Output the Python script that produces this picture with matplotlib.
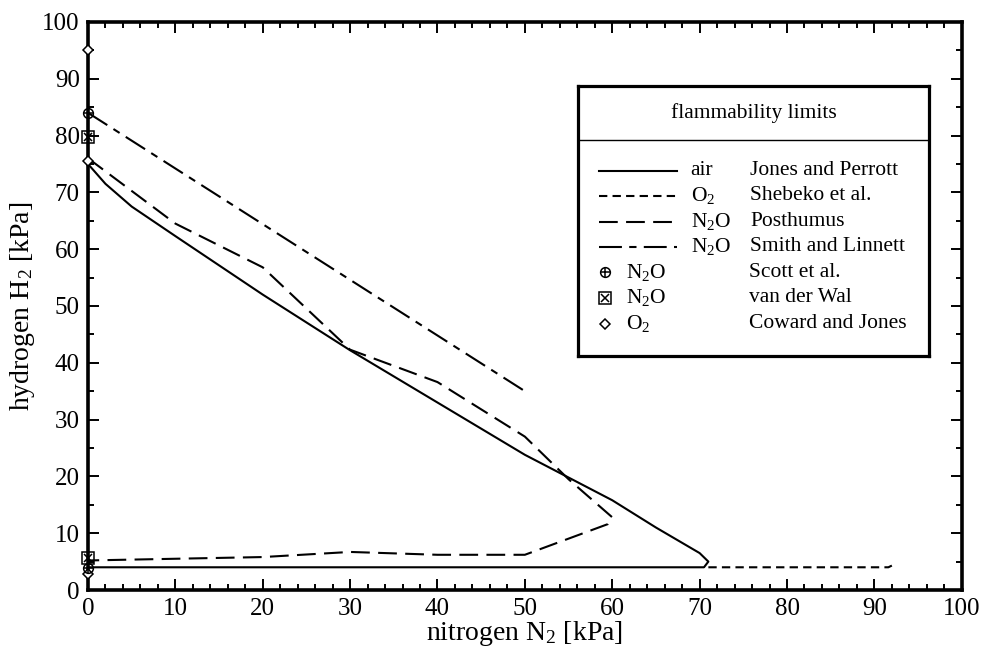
"""
Flammability limits of H2 / N2 mixtures in different oxidisers
"""

import matplotlib
matplotlib.use("Agg")
import matplotlib.pyplot as plt
from matplotlib.lines import Line2D
from matplotlib.ticker import MultipleLocator

plt.rcParams['font.family'] = ['Liberation Serif', 'DejaVu Serif']
plt.rcParams['mathtext.default'] = 'regular'

# ==================== data ====================

# air, Jones and Perrott (solid)
air_n2 = [0, 2, 5, 10, 20, 30, 40, 50, 60, 65, 70, 71, 70.5, 60, 40, 20, 0]
air_h2 = [75, 71.5, 67.5, 62.3, 52, 42.2, 33, 23.8, 15.8, 11, 6.5, 5, 4, 4, 4, 4, 4]

# O2, Shebeko et al. (short dashes)
o2_n2 = [71, 80, 91.6, 92]
o2_h2 = [4, 4, 4, 4.3]

# N2O, Posthumus (long dashes)
post_n2 = [0, 10, 20, 30, 40, 50, 55, 60, 59.5, 50, 40, 30, 20, 10, 0]
post_h2 = [76, 64.5, 56.8, 42.3, 36.6, 27, 19.5, 12.8, 11.6, 6.2, 6.2, 6.7, 5.8, 5.5, 5.2]

# N2O, Smith and Linnett (dash-dot)
smith_n2 = [0, 50]
smith_h2 = [84, 35]

# single points on the H2 axis
scott_n2 = [0, 0]
scott_h2 = [84, 3.8]
wal_n2 = [0, 0]
wal_h2 = [79.7, 5.6]
coward_n2 = [0, 0, 0]
coward_h2 = [95, 75.5, 2.8]

legend_gas = ['air', 'O$_2$', 'N$_2$O', 'N$_2$O', 'N$_2$O', 'N$_2$O', 'O$_2$']
legend_src = ['Jones and Perrott', 'Shebeko et al.', 'Posthumus', 'Smith and Linnett',
              'Scott et al.', 'van der Wal', 'Coward and Jones']

# ===================================================================

short_dash = (0, (4, 2.5))
long_dash = (0, (9, 4))
dash_dot = (0, (11, 3.5, 3.5, 3.5))
lw = 1.5
legend_fs = 15.5


def circle_plus(ax, x, y, **kw):
    ax.plot(x, y, 'o', ms=7, mfc='none', mec='black', mew=1.1, **kw)
    ax.plot(x, y, '+', ms=7, mec='black', mew=1.1, **kw)


def square_x(ax, x, y, **kw):
    ax.plot(x, y, 's', ms=8, mfc='none', mec='black', mew=1.1, **kw)
    ax.plot(x, y, 'x', ms=6, mec='black', mew=1.1, **kw)


def diamond(ax, x, y, **kw):
    ax.plot(x, y, 'D', ms=5.5, mfc='white', mec='black', mew=1.1, **kw)


fig = plt.figure(figsize=(9.84, 6.5), dpi=100)
ax = fig.add_axes([0.0894, 0.0923, 0.888, 0.874])

ax.plot(air_n2, air_h2, color='black', lw=lw)
ax.plot(o2_n2, o2_h2, color='black', lw=lw, linestyle=short_dash)
ax.plot(post_n2, post_h2, color='black', lw=lw, linestyle=long_dash)
ax.plot(smith_n2, smith_h2, color='black', lw=lw, linestyle=dash_dot)

kw = dict(clip_on=False, zorder=5)
diamond(ax, coward_n2, coward_h2, **kw)
square_x(ax, wal_n2, wal_h2, **kw)
circle_plus(ax, scott_n2, scott_h2, **kw)

ax.set_xlim(0, 100)
ax.set_ylim(0, 100)
ax.xaxis.set_major_locator(MultipleLocator(10))
ax.xaxis.set_minor_locator(MultipleLocator(2))
ax.yaxis.set_major_locator(MultipleLocator(10))
ax.yaxis.set_minor_locator(MultipleLocator(5))
ax.tick_params(which='both', direction='in', top=True, right=True, width=1.4,
               labelsize=18, pad=6, colors='black')
ax.tick_params(which='major', length=8)
ax.tick_params(which='minor', length=4)
for sp in ax.spines.values():
    sp.set_linewidth(2.6)

ax.set_xlabel('nitrogen N$_2$ [kPa]', fontsize=20, labelpad=-1)
ax.set_ylabel('hydrogen H$_2$ [kPa]', fontsize=20, labelpad=4)

# ---- hand-built legend box ----
lg = ax.inset_axes([0.561, 0.412, 0.402, 0.475])
lg.set_xlim(0, 1)
lg.set_ylim(0, 1)
lg.set_xticks([])
lg.set_yticks([])
for sp in lg.spines.values():
    sp.set_linewidth(2.3)
lg.axhline(0.8, color='black', lw=1.0)
lg.text(0.5, 0.9, 'flammability limits', ha='center', va='center', fontsize=legend_fs)

row_y = [0.687, 0.593, 0.497, 0.405, 0.31, 0.215, 0.12]
styles = ['-', short_dash, long_dash, dash_dot]
for i in range(4):
    lg.add_line(Line2D([0.06, 0.28], [row_y[i]] * 2, color='black', lw=lw,
                       linestyle=styles[i]))
    lg.text(0.32, row_y[i], legend_gas[i], va='center', fontsize=legend_fs)
    lg.text(0.49, row_y[i], legend_src[i], va='center', fontsize=legend_fs)

circle_plus(lg, [0.075], [row_y[4]])
square_x(lg, [0.075], [row_y[5]])
diamond(lg, [0.075], [row_y[6]])
for i in range(4, 7):
    lg.text(0.135, row_y[i], legend_gas[i], va='center', fontsize=legend_fs)
    lg.text(0.485, row_y[i], legend_src[i], va='center', fontsize=legend_fs)

fig.savefig('out.png', dpi=100)
